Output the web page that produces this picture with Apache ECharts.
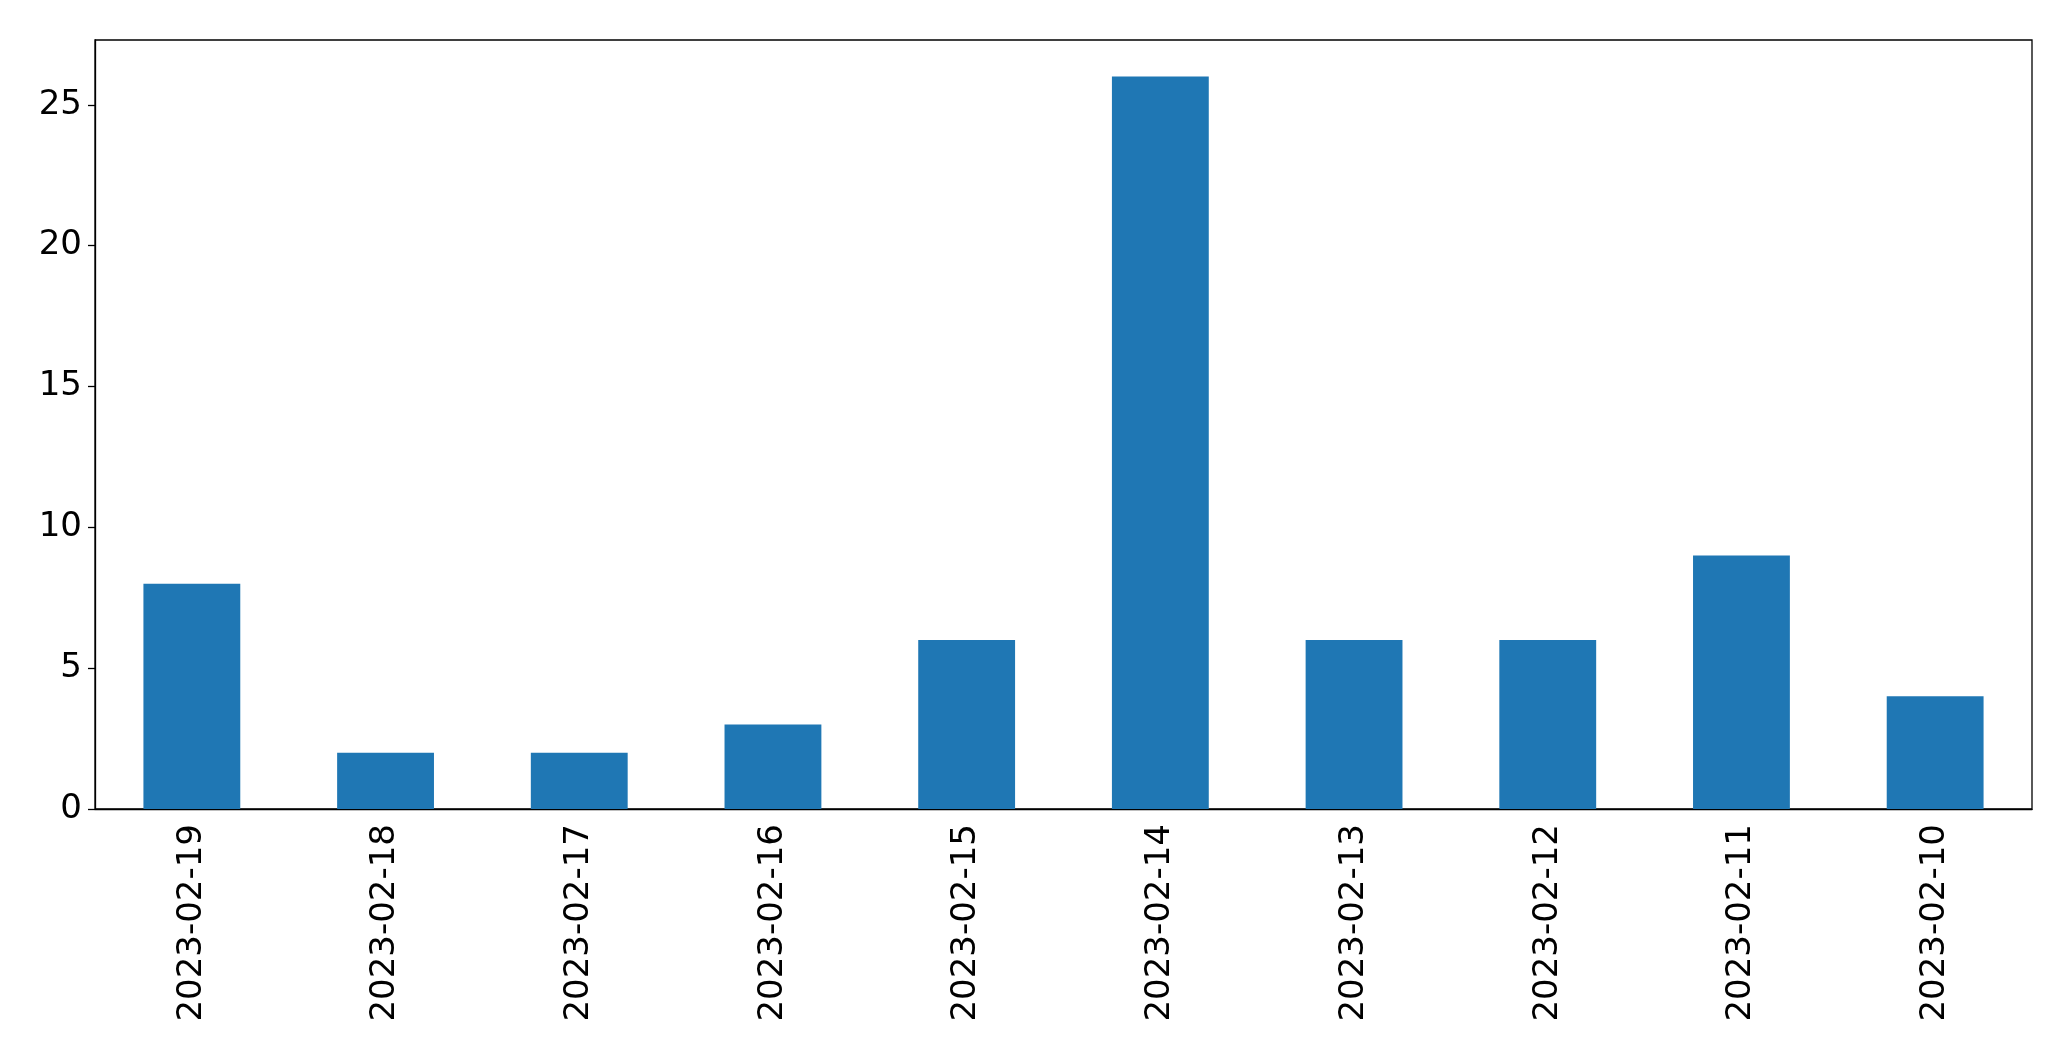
<!DOCTYPE html>
<html>
<head>
<meta charset="utf-8">
<script src="https://cdn.jsdelivr.net/npm/echarts@6/dist/echarts.min.js"></script>
<style>
html,body{margin:0;padding:0;background:#fff;}
#chart{width:2071px;height:1061px;}
</style>
</head>
<body>
<div id="chart"></div>
<script>
const categories = ["2023-02-19","2023-02-18","2023-02-17","2023-02-16","2023-02-15","2023-02-14","2023-02-13","2023-02-12","2023-02-11","2023-02-10"];
const values = [8, 2, 2, 3, 6, 26, 6, 6, 9, 4];
const yTicks = [0, 5, 10, 15, 20, 25];

const chart = echarts.init(document.getElementById('chart'));
chart.setOption({
  animation: false,
  grid: {left: 95, right: 39, top: 40, bottom: 252, show: true, borderColor: '#000', borderWidth: 1.3, backgroundColor: 'transparent'},
  xAxis: {
    type: 'category',
    data: categories,
    axisLine: {lineStyle: {color: '#000', width: 1.3}},
    axisTick: {alignWithLabel: true, length: 7, lineStyle: {color: '#000', width: 1.3}},
    axisLabel: {rotate: 90, margin: 15, color: '#000', fontSize: 34, fontFamily: 'DejaVu Sans', interval: 0}
  },
  yAxis: {
    type: 'value',
    min: 0,
    max: 27.3,
    interval: 5,
    splitLine: {show: false},
    axisLine: {show: true, lineStyle: {color: '#000', width: 1.3}},
    axisTick: {show: true, length: 7, lineStyle: {color: '#000', width: 1.3}},
    axisLabel: {margin: 13, color: '#000', fontSize: 34, fontFamily: 'DejaVu Sans', showMaxLabel: false,
      formatter: v => yTicks.includes(v) ? String(v) : ''}
  },
  series: [{
    type: 'bar',
    data: values,
    barWidth: '50%',
    itemStyle: {color: '#1f77b4'}
  }]
});
</script>
</body>
</html>
